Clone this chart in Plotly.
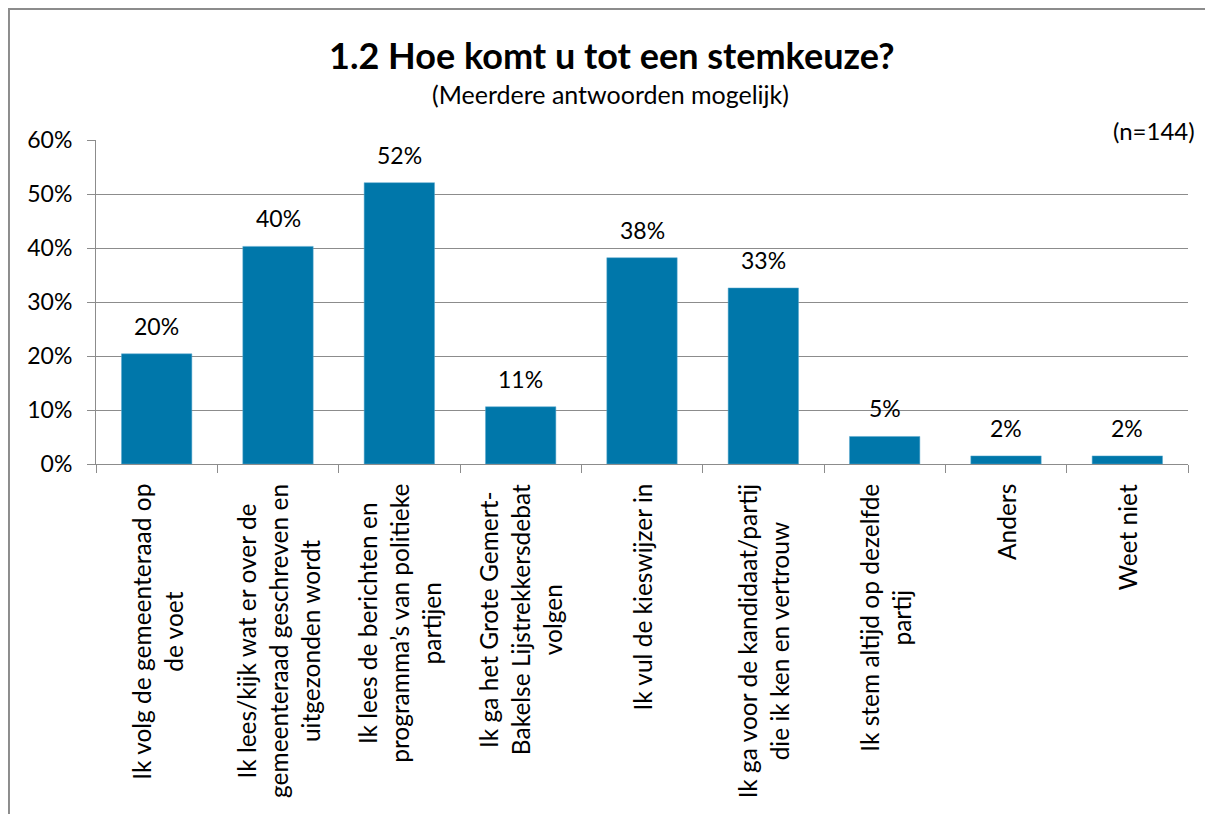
import plotly.graph_objects as go

categories = [
    "Ik volg de gemeenteraad op<br>de voet",
    "Ik lees/kijk wat er over de<br>gemeenteraad geschreven en<br>uitgezonden wordt",
    "Ik lees de berichten en<br>programma’s van politieke<br>partijen",
    "Ik ga het Grote Gemert-<br>Bakelse Lijstrekkersdebat<br>volgen",
    "Ik vul de kieswijzer in",
    "Ik ga voor de kandidaat/partij<br>die ik ken en vertrouw",
    "Ik stem altijd op dezelfde<br>partij",
    "Anders",
    "Weet niet",
]
values = [0.204, 0.403, 0.521, 0.106, 0.382, 0.326, 0.051, 0.015, 0.015]
value_labels = ["20%", "40%", "52%", "11%", "38%", "33%", "5%", "2%", "2%"]
y_ticks = [0, 0.1, 0.2, 0.3, 0.4, 0.5, 0.6]

FONT = "Lato"
GRID = "#8c8c8c"

fig = go.Figure()
fig.add_trace(go.Bar(
    x=list(range(len(categories))),
    y=values,
    marker=dict(color="#0077aa", line=dict(color="#5aa8cf", width=0.5)),
    hoverinfo="skip",
))

annotations = []
for i, (v, lab) in enumerate(zip(values, value_labels)):
    annotations.append(dict(
        x=i, y=v, xref="x", yref="y", text=lab, showarrow=False,
        yanchor="middle", yshift=28, font=dict(family=FONT, size=23, color="#000000"),
    ))
for i, cat in enumerate(categories):
    annotations.append(dict(
        x=i, y=0, xref="x", yref="paper", text=cat, showarrow=False,
        textangle=-90, yanchor="top", xanchor="center", align="center", yshift=-18,
        font=dict(family=FONT, size=24.5, color="#000000"),
    ))
annotations += [
    dict(x=0.4725, y=1.262, xref="paper", yref="paper", showarrow=False,
         text="<b>1.2 Hoe komt u tot een stemkeuze?</b>", xanchor="center", yanchor="middle",
         font=dict(family=FONT, size=36, color="#000000")),
    dict(x=0.471, y=1.142, xref="paper", yref="paper", showarrow=False,
         text="(Meerdere antwoorden mogelijk)", xanchor="center", yanchor="middle",
         font=dict(family=FONT, size=25, color="#000000")),
    dict(x=1.0085, y=1.0278, xref="paper", yref="paper", showarrow=False,
         text="(n=144)", xanchor="right", yanchor="middle",
         font=dict(family=FONT, size=24, color="#000000")),
]

fig.update_layout(
    width=1213, height=814,
    margin=dict(l=88, r=33, t=132, b=358, autoexpand=False),
    paper_bgcolor="white", plot_bgcolor="white",
    showlegend=False, bargap=0.42,
    font=dict(family=FONT, size=23, color="#000000"),
    annotations=annotations,
    shapes=[dict(type="rect", xref="paper", yref="paper",
                 x0=-0.0797, x1=1.1, y0=-1.3, y1=1.404,
                 line=dict(color="#8c8c8c", width=2), fillcolor="rgba(0,0,0,0)", layer="below")],
)
fig.update_xaxes(
    range=[-0.5, len(categories) - 0.5], showticklabels=False,
    tickmode="array", tickvals=[i + 0.5 for i in range(-1, len(categories))],
    ticks="outside", ticklen=8, tickcolor=GRID, tickwidth=1,
    showline=True, linecolor=GRID, linewidth=1, showgrid=False, zeroline=False,
)
fig.update_yaxes(
    range=[0, 0.6], tickmode="array", tickvals=y_ticks, tickformat=".0%",
    ticks="outside", ticklen=8, tickcolor=GRID, tickwidth=1, ticklabelstandoff=10,
    showline=True, linecolor=GRID, linewidth=1,
    showgrid=True, gridcolor=GRID, gridwidth=1, zeroline=False,
    tickfont=dict(family=FONT, size=23, color="#000000"),
)

fig.write_html("out.html")
